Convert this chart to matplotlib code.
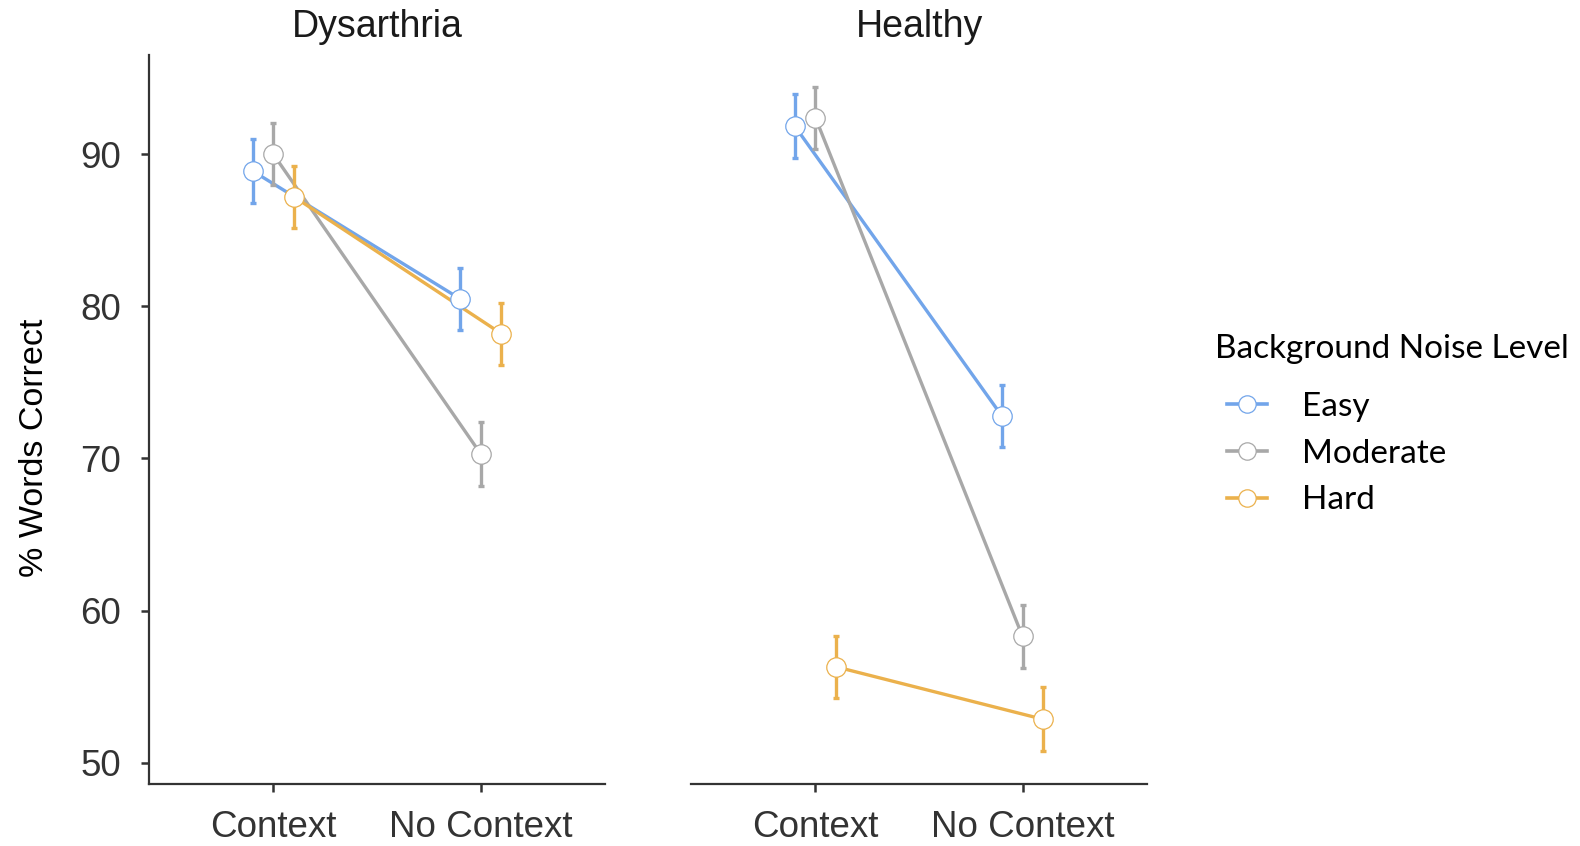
import matplotlib
matplotlib.use("Agg")
import matplotlib.pyplot as plt
from matplotlib.lines import Line2D
import numpy as np

plt.rcParams['font.family'] = ['Liberation Sans', 'DejaVu Sans']

# data
groups = ["Dysarthria", "Healthy"]
conditions = ["Context", "No Context"]
levels = ["Easy", "Moderate", "Hard"]
colors = ["#72A5EA", "#A8A8A8", "#EBB14C"]

# mean % words correct: [Context, No Context]
dys_easy = [88.9, 80.5]
dys_moderate = [90.0, 70.3]
dys_hard = [87.2, 78.2]
hea_easy = [91.85, 72.8]
hea_moderate = [92.4, 58.3]
hea_hard = [56.3, 52.85]

# half-width of error bars
dys_err = [[2.1, 2.05], [2.05, 2.1], [2.05, 2.05]]
hea_err = [[2.1, 2.05], [2.05, 2.05], [2.05, 2.1]]

means = {
    "Dysarthria": [dys_easy, dys_moderate, dys_hard],
    "Healthy": [hea_easy, hea_moderate, hea_hard],
}
errs = {"Dysarthria": dys_err, "Healthy": hea_err}

dodge = [-0.1, 0.0, 0.1]

fig = plt.figure(figsize=(15.8, 8.46), dpi=100)
ax1 = fig.add_axes([0.0943, 0.0733, 0.2887, 0.8612])
ax2 = fig.add_axes([0.4375, 0.0733, 0.2883, 0.8612])

axis_col = "#333333"
for ax, g in zip([ax1, ax2], groups):
    x = np.arange(1, len(conditions) + 1)
    for i, lvl in enumerate(levels):
        xs = x + dodge[i]
        ax.plot(xs, means[g][i], color=colors[i], lw=2.4, zorder=2 + i)
        ax.errorbar(xs, means[g][i], yerr=errs[g][i], fmt="none",
                    ecolor=colors[i], elinewidth=2.4, capsize=2.5,
                    capthick=2.4, zorder=2 + i)
        ax.plot(xs, means[g][i], "o", ms=14, mfc="white", mec=colors[i],
                mew=0.9, zorder=6 + i)
    ax.set_xlim(0.4, 2.6)
    ax.set_ylim(48.6, 96.5)
    ax.set_xticks(x)
    ax.set_xticklabels(conditions)
    ax.set_yticks([50, 60, 70, 80, 90])
    ax.set_title(g, fontsize=27, color="#1a1a1a", pad=13)
    for s in ["top", "right"]:
        ax.spines[s].set_visible(False)
    ax.spines["left"].set_color(axis_col)
    ax.spines["bottom"].set_color(axis_col)
    ax.spines["left"].set_linewidth(1.6)
    ax.spines["bottom"].set_linewidth(1.6)
    ax.tick_params(axis="both", labelsize=26.5, labelcolor="#333333",
                   color=axis_col, width=1.8, length=6)
    ax.tick_params(axis="x", pad=13)
    ax.tick_params(axis="y", pad=14)

ax1.set_ylabel("% Words Correct", fontsize=24.5, color="black")
ax1.yaxis.set_label_coords(-0.217, 0.461)
ax2.spines["left"].set_visible(False)
ax2.tick_params(axis="y", left=False, labelleft=False)

# legend: title as separate text, entries below
fig.text(0.769, 0.588, "Background Noise Level", family="Lato", fontsize=24,
         va="center", ha="left", color="black")
handles = [Line2D([0], [0], color=c, lw=2.6, marker="o", ms=12.5, mfc="white",
                  mec=c, mew=0.9) for c in colors]
leg = fig.legend(handles, levels, loc="upper left",
                 bbox_to_anchor=(0.7576, 0.572), frameon=False,
                 prop={"family": "Lato", "size": 24},
                 handlelength=1.2, handletextpad=1.05, labelspacing=0.50)

fig.savefig("out.png", dpi=100)
